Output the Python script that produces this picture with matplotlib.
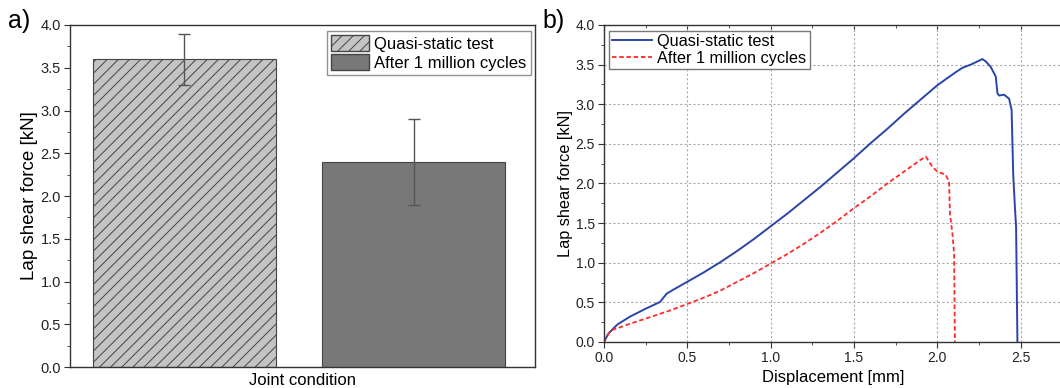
import matplotlib
matplotlib.use("Agg")
import matplotlib.pyplot as plt
from matplotlib.patches import Patch
from matplotlib.ticker import MultipleLocator
import numpy as np

plt.rcParams['font.family'] = ['Liberation Sans', 'DejaVu Sans']
plt.rcParams['hatch.linewidth'] = 0.7
plt.rcParams['hatch.color'] = '#444444'

# a) mean lap shear force per joint condition
conditions = ["Quasi-static test", "After 1 million cycles"]
mean_force = [3.6, 2.4]
force_err = [0.3, 0.5]

# b) force-displacement curves
disp_qs = [0.0, 0.026, 0.056, 0.08, 0.156, 0.25, 0.336, 0.376, 0.416, 0.5,
           0.6, 0.7, 0.8, 0.9, 1.0, 1.1, 1.2, 1.3, 1.4, 1.5, 1.6, 1.7, 1.8,
           1.9, 2.0, 2.1, 2.15, 2.2, 2.27, 2.29, 2.32, 2.35, 2.36, 2.37, 2.4,
           2.43, 2.445, 2.455, 2.465, 2.472, 2.48]
force_qs = [0.0, 0.105, 0.17, 0.22, 0.32, 0.42, 0.505, 0.61, 0.66, 0.76,
            0.88, 1.01, 1.15, 1.30, 1.46, 1.62, 1.79, 1.96, 2.14, 2.32, 2.51,
            2.69, 2.88, 3.06, 3.24, 3.39, 3.46, 3.5, 3.57, 3.54, 3.47, 3.35,
            3.14, 3.11, 3.12, 3.07, 2.93, 2.1, 1.7, 1.45, 0.0]
disp_cyc = [0.0, 0.026, 0.046, 0.076, 0.156, 0.3, 0.4, 0.5, 0.6, 0.7, 0.8,
            0.9, 1.0, 1.1, 1.2, 1.3, 1.4, 1.5, 1.6, 1.7, 1.8, 1.9, 1.93, 1.97,
            2.0, 2.05, 2.07, 2.075, 2.09, 2.1, 2.105]
force_cyc = [0.0, 0.1, 0.15, 0.17, 0.23, 0.33, 0.4, 0.48, 0.56, 0.65, 0.76,
             0.87, 0.99, 1.11, 1.24, 1.38, 1.53, 1.69, 1.84, 2.0, 2.15, 2.3,
             2.34, 2.21, 2.15, 2.11, 2.02, 1.62, 1.37, 1.12, 0.0]

fig = plt.figure(figsize=(10.6, 3.88), dpi=100)

# ---- panel a: bar chart ----
ax1 = fig.add_axes([0.066, 0.054, 0.4387, 0.8816])
x = np.arange(len(conditions))
ax1.bar(x[0], mean_force[0], 0.8, color='#c4c4c4', edgecolor='#444444',
        linewidth=0.8, hatch='///', label=conditions[0])
ax1.bar(x[1], mean_force[1], 0.8, color='#787878', edgecolor='#444444',
        linewidth=0.8, label=conditions[1])
ax1.errorbar(x, mean_force, yerr=force_err, fmt='none', ecolor='#555555',
             elinewidth=1.0, capsize=4, capthick=1.0)
ax1.set_xlim(-0.5, 1.53)
ax1.set_ylim(0, 4.0)
ax1.yaxis.set_major_locator(MultipleLocator(0.5))
ax1.yaxis.set_minor_locator(MultipleLocator(0.25))
ax1.set_xticks([])
ax1.tick_params(axis='y', which='both', direction='out', labelsize=10.5,
                color='#333333', labelcolor='#222222', pad=2.5)
ax1.tick_params(axis='y', which='major', length=4)
ax1.tick_params(axis='y', which='minor', length=2.5)
ax1.set_ylabel("Lap shear force [kN]", fontsize=13.5, labelpad=2)
ax1.set_xlabel("Joint condition", fontsize=12, labelpad=4)
for sp in ax1.spines.values():
    sp.set_linewidth(1.0)
    sp.set_color('#333333')
leg1 = ax1.legend(handles=[Patch(facecolor='#c4c4c4', edgecolor='#444444', hatch='///'),
                           Patch(facecolor='#787878', edgecolor='#444444')],
                  labels=conditions, loc='upper right', bbox_to_anchor=(0.998, 0.992),
                  fontsize=12, frameon=True, fancybox=False, borderpad=0.25,
                  labelspacing=0.12, handlelength=2.3, handleheight=1.1,
                  handletextpad=0.3, borderaxespad=0.2)
leg1.get_frame().set_edgecolor('#777777')
leg1.get_frame().set_linewidth(1.0)
fig.text(0.008, 0.945, "a)", fontsize=18, va='center', ha='left')

# ---- panel b: force-displacement curves ----
ax2 = fig.add_axes([0.5698, 0.1186, 0.4325, 0.8170])
ax2.plot(disp_qs, force_qs, color='#2a45a8', linewidth=1.4, label=conditions[0])
ax2.plot(disp_cyc, force_cyc, color='#ff2a2a', linewidth=1.3,
         linestyle=(0, (2.5, 1.5)), label=conditions[1])
ax2.set_xlim(0, 2.75)
ax2.set_ylim(0, 4.0)
ax2.xaxis.set_major_locator(MultipleLocator(0.5))
ax2.xaxis.set_minor_locator(MultipleLocator(0.25))
ax2.yaxis.set_major_locator(MultipleLocator(0.5))
ax2.yaxis.set_minor_locator(MultipleLocator(0.25))
ax2.grid(True, which='major', color='#aaaaaa', linestyle=(0, (2, 2)), linewidth=0.8)
ax2.tick_params(which='both', direction='out', labelsize=10,
                color='#333333', labelcolor='#222222', pad=2.5)
ax2.tick_params(which='major', length=4)
ax2.tick_params(which='minor', length=2.5)
top = ax2.secondary_xaxis('top')
top.xaxis.set_major_locator(MultipleLocator(0.5))
top.xaxis.set_minor_locator(MultipleLocator(0.25))
top.tick_params(which='both', direction='in', labeltop=False, color='#333333')
top.tick_params(which='major', length=4)
top.tick_params(which='minor', length=2.5)
top.spines['top'].set_visible(False)
ax2.set_ylabel("Lap shear force [kN]", fontsize=11.7, labelpad=2)
ax2.set_xlabel("Displacement [mm]", fontsize=12, labelpad=3.5)
for sp in ax2.spines.values():
    sp.set_linewidth(1.0)
    sp.set_color('#333333')
leg2 = ax2.legend(loc='upper left', bbox_to_anchor=(0.003, 0.992), fontsize=11.7,
                  frameon=True, fancybox=False, framealpha=1.0, borderpad=0.2,
                  labelspacing=0.1, handlelength=2.5, handletextpad=0.3,
                  borderaxespad=0.2)
leg2.get_frame().set_edgecolor('#777777')
leg2.get_frame().set_linewidth(1.0)
fig.text(0.512, 0.945, "b)", fontsize=18, va='center', ha='left')

fig.savefig("out.png", dpi=100)
